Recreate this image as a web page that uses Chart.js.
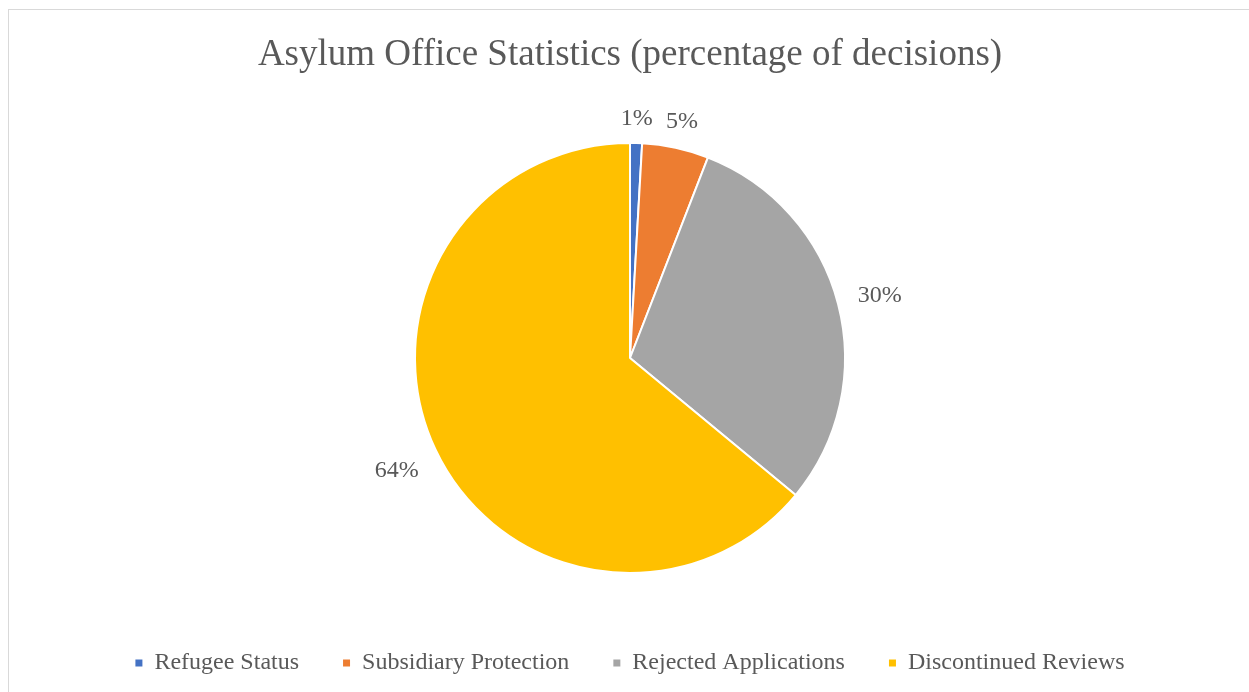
<!DOCTYPE html>
<html>
<head>
<meta charset="utf-8">
<script src="https://cdn.jsdelivr.net/npm/chart.js@4/dist/chart.umd.min.js"></script>
<style>
  html, body { margin: 0; padding: 0; background: #fff; overflow: hidden; }
  #wrap { position: relative; width: 1249px; height: 692px; }
  #frame { position: absolute; left: 8px; top: 9px; width: 1300px; height: 700px; border: 1px solid #d9d9d9; pointer-events: none; }
</style>
</head>
<body>
<div id="wrap">
  <canvas id="c" width="1249" height="692"></canvas>
  <div id="frame"></div>
</div>
<script>
const categories = ['Refugee Status', 'Subsidiary Protection', 'Rejected Applications', 'Discontinued Reviews'];
const shares = [0.9, 5.0, 30.1, 64.0];
const valueLabels = ['1%', '5%', '30%', '64%'];
const colors = ['#4472C4', '#ED7D31', '#A5A5A5', '#FFC000'];

const FONT = "'Liberation Serif', 'Times New Roman', serif";
const TEXT = '#595959';

const outsideLabels = {
  id: 'outsideLabels',
  afterDatasetsDraw(chart) {
    const ctx = chart.ctx;
    const meta = chart.getDatasetMeta(0);
    ctx.save();
    ctx.font = '24px ' + FONT;
    ctx.fillStyle = TEXT;
    ctx.textAlign = 'center';
    ctx.textBaseline = 'middle';
    meta.data.forEach((arc, i) => {
      const p = arc.getProps(['x', 'y', 'startAngle', 'endAngle', 'outerRadius'], true);
      const mid = (p.startAngle + p.endAngle) / 2;
      const c = Math.cos(mid), s = Math.sin(mid);
      const txt = valueLabels[i];
      const w = ctx.measureText(txt).width;
      const h = 14;
      const d = p.outerRadius + 20 + Math.abs(c) * w / 2 + Math.abs(s) * h / 2;
      ctx.fillText(txt, p.x + c * d, p.y + s * d + 3);
    });
    ctx.restore();
  }
};

new Chart(document.getElementById('c'), {
  type: 'pie',
  data: {
    labels: categories,
    datasets: [{
      data: shares,
      backgroundColor: colors,
      borderColor: '#ffffff',
      borderWidth: 2,
      radius: 215
    }]
  },
  options: {
    responsive: false,
    animation: false,
    layout: { padding: { left: 11, right: 0, top: 0, bottom: 7 } },
    plugins: {
      title: {
        display: true,
        text: 'Asylum Office Statistics (percentage of decisions)',
        color: TEXT,
        font: { family: FONT, size: 37, weight: 'normal' },
        padding: { top: 33, bottom: 31.6 }
      },
      legend: {
        display: true,
        position: 'bottom',
        labels: {
          color: TEXT,
          font: { family: FONT, size: 24 },
          boxWidth: 7,
          boxHeight: 7,
          padding: 44,
          generateLabels(chart) {
            const items = Chart.overrides.pie.plugins.legend.labels.generateLabels(chart);
            items.forEach(it => { it.lineWidth = 0; it.strokeStyle = 'rgba(0,0,0,0)'; });
            return items;
          }
        }
      },
      tooltip: { enabled: false }
    }
  },
  plugins: [outsideLabels]
});
</script>
</body>
</html>
